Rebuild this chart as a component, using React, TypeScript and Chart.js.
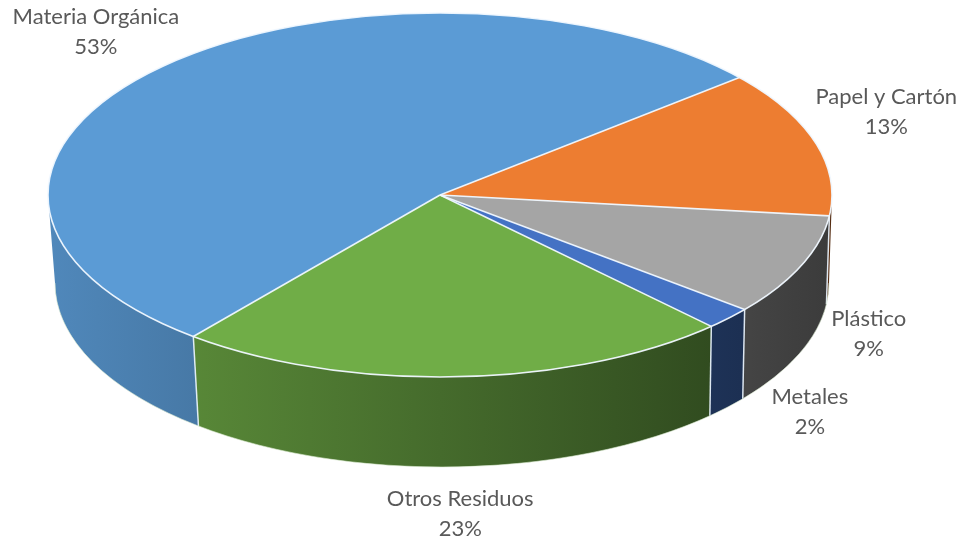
import React, { useEffect, useRef } from "react";
import { Chart, registerables } from "chart.js";

Chart.register(...registerables);

// ---- data ----
const categories = ["Materia Orgánica", "Papel y Cartón", "Plástico", "Metales", "Otros Residuos"];
const values = [53, 13, 9, 2, 23];
const percentLabels = ["53%", "13%", "9%", "2%", "23%"];
const colors = ["#5b9bd5", "#ed7d31", "#a5a5a5", "#4472c4", "#70ad47"];

// ---- layout / style ----
const TOP = { cx: 440, cy: 195, rx: 392, ry: 182 };
const BOTTOM = { cx: 442, cy: 283, rx: 387, ry: 184 };
const ROTATION = 219; // degrees (Chart.js rotation: 0 = top)
// label offsets from the rim point (top rim for back slices, bottom rim for front slices)
const labelOffsets: [number, number][] = [
  [-64, -36],
  [71, -30],
  [70, -20],
  [83, 4],
  [2, 47],
];
const FONT = "22px Lato, 'Open Sans', sans-serif";
const TEXT_COLOR = "#595959";

function shade(hex: string, f: number): string {
  const h = hex.replace("#", "");
  const r = Math.round(parseInt(h.slice(0, 2), 16) * f);
  const g = Math.round(parseInt(h.slice(2, 4), 16) * f);
  const b = Math.round(parseInt(h.slice(4, 6), 16) * f);
  return `rgb(${r},${g},${b})`;
}

function frontSegments(a: number, b: number): [number, number][] {
  const segs: [number, number][] = [];
  const TAU = Math.PI * 2;
  const k0 = Math.floor(a / TAU) - 1;
  for (let k = k0; k <= k0 + 3; k++) {
    const s = Math.max(a, k * TAU);
    const e = Math.min(b, k * TAU + Math.PI);
    if (e > s) segs.push([s, e]);
  }
  return segs;
}

const pie3d = {
  id: "pie3d",
  beforeDatasetsDraw(chart: any) {
    const meta = chart.getDatasetMeta(0);
    const ctx: CanvasRenderingContext2D = chart.ctx;
    const T = TOP, B = BOTTOM;
    // side walls
    meta.data.forEach((el: any, i: number) => {
      const col = colors[i];
      frontSegments(el.startAngle, el.endAngle).forEach(([u, v]) => {
        const g = ctx.createLinearGradient(T.cx - T.rx, 0, T.cx + T.rx, 0);
        g.addColorStop(0, shade(col, 0.88));
        g.addColorStop(0.5, shade(col, 0.62));
        g.addColorStop(1, shade(col, 0.36));
        ctx.beginPath();
        ctx.ellipse(T.cx, T.cy, T.rx, T.ry, 0, u, v, false);
        ctx.ellipse(B.cx, B.cy, B.rx, B.ry, 0, v, u, true);
        ctx.closePath();
        ctx.fillStyle = g;
        ctx.fill();
      });
    });
    // vertical separators on the walls
    ctx.save();
    ctx.strokeStyle = "rgba(235,245,255,0.9)";
    ctx.lineWidth = 1.5;
    meta.data.forEach((el: any) => {
      const a = el.startAngle;
      if (Math.sin(a) > 0) {
        ctx.beginPath();
        ctx.moveTo(T.cx + T.rx * Math.cos(a), T.cy + T.ry * Math.sin(a));
        ctx.lineTo(B.cx + B.rx * Math.cos(a), B.cy + B.ry * Math.sin(a));
        ctx.stroke();
      }
    });
    ctx.restore();
    // transform so the library draws the top face as an ellipse
    const el0 = meta.data[0];
    ctx.save();
    ctx.translate(T.cx, T.cy);
    ctx.scale(T.rx / el0.outerRadius, T.ry / el0.outerRadius);
    ctx.translate(-el0.x, -el0.y);
  },
  afterDatasetsDraw(chart: any) {
    const ctx: CanvasRenderingContext2D = chart.ctx;
    ctx.restore();
    const meta = chart.getDatasetMeta(0);
    const T = TOP, B = BOTTOM;
    // top separators
    ctx.save();
    ctx.strokeStyle = "rgba(240,248,255,0.95)";
    ctx.lineWidth = 1.6;
    meta.data.forEach((el: any) => {
      const a = el.startAngle;
      ctx.beginPath();
      ctx.moveTo(T.cx, T.cy);
      ctx.lineTo(T.cx + T.rx * Math.cos(a), T.cy + T.ry * Math.sin(a));
      ctx.stroke();
    });
    ctx.beginPath();
    ctx.ellipse(T.cx, T.cy, T.rx, T.ry, 0, 0, Math.PI * 2);
    ctx.stroke();
    ctx.strokeStyle = "rgba(220,235,210,0.6)";
    ctx.lineWidth = 1;
    ctx.beginPath();
    ctx.ellipse(B.cx, B.cy, B.rx, B.ry, 0, 0, Math.PI);
    ctx.stroke();
    ctx.restore();

    // labels
    ctx.save();
    ctx.font = FONT;
    ctx.fillStyle = TEXT_COLOR;
    ctx.textAlign = "center";
    ctx.textBaseline = "middle";
    meta.data.forEach((el: any, i: number) => {
      const m = (el.startAngle + el.endAngle) / 2;
      const s = Math.sin(m);
      let x: number, y: number;
      if (s > 0) {
        x = B.cx + B.rx * Math.cos(m);
        y = B.cy + B.ry * s;
      } else {
        x = T.cx + T.rx * Math.cos(m);
        y = T.cy + T.ry * s;
      }
      x += labelOffsets[i][0];
      y += labelOffsets[i][1];
      ctx.fillText(categories[i], x, y - 15);
      ctx.fillText(percentLabels[i], x, y + 15);
    });
    ctx.restore();
  },
};

export default function App() {
  const ref = useRef<HTMLCanvasElement | null>(null);
  useEffect(() => {
    if (!ref.current) return;
    const chart = new Chart(ref.current, {
      type: "pie",
      data: {
        labels: categories,
        datasets: [
          {
            data: values,
            backgroundColor: colors,
            borderWidth: 0,
            clip: false as any,
          },
        ],
      },
      options: {
        responsive: false,
        devicePixelRatio: 1,
        animation: false,
        events: [],
        rotation: ROTATION,
        layout: { padding: 0 },
        plugins: {
          legend: { display: false },
          tooltip: { enabled: false },
        },
      },
      plugins: [pie3d as any],
    });
    return () => chart.destroy();
  }, []);
  return (
    <div style={{ position: "fixed", left: 0, top: 0, width: 960, height: 537, background: "#fff" }}>
      <canvas ref={ref} width={960} height={537} />
    </div>
  );
}
